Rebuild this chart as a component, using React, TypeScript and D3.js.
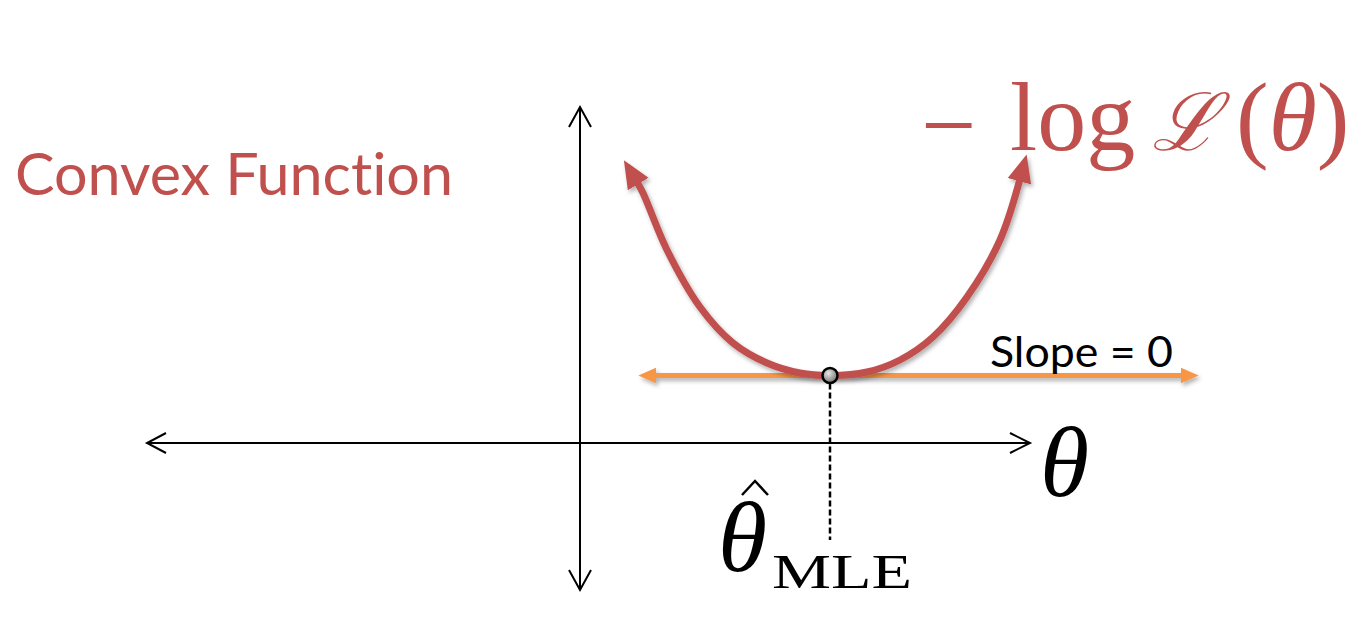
import React from "react";
import * as d3 from "d3";

// curve (theta, -log L)
const curveTheta = [1.14, 1.26, 1.74, 2.4, 3.06, 3.74, 4.4, 5.0, 5.74, 6.4, 7.06, 7.74, 8.4, 8.8];
const curveLoss = [5.22, 5.0, 3.86, 2.72, 2.0, 1.6, 1.4, 1.35, 1.42, 1.66, 2.12, 2.92, 4.06, 5.28];

const thetaHat = 5.0;
const minLoss = 1.35;
const slopeExtent = [1.5, 12.04];
const xAxisExtent = [-8.66, 9.0];
const yAxisExtent = [-2.94, 6.72];
const dashBottom = -1.94;

const RED = "#C0504D";
const ORANGE = "#F79646";

export default function App() {
  const width = 1352;
  const height = 620;

  const x = d3.scaleLinear().domain([-9, 9]).range([130, 1030]);
  const y = d3.scaleLinear().domain([-3, 7]).range([593, 93]);

  const pts: [number, number][] = curveTheta.map((t, i) => [t, curveLoss[i]]);
  const line = d3
    .line<[number, number]>()
    .x((d) => x(d[0]))
    .y((d) => y(d[1]))
    .curve(d3.curveCatmullRom.alpha(0.5));

  const x0 = x(0);
  const y0 = y(0);
  const chev = 11; // open arrow size on the axes

  const sans = "Lato, 'Open Sans', sans-serif";
  const serif = "'Liberation Serif', 'DejaVu Serif', serif";

  return (
    <svg
      width={width}
      height={height}
      style={{ position: "absolute", left: 0, top: 0, background: "#fff" }}
    >
      <defs>
        <filter id="shadow" filterUnits="userSpaceOnUse" x="0" y="0" width={width} height={height}>
          <feDropShadow dx="2" dy="3" stdDeviation="2" floodColor="#000" floodOpacity="0.3" />
        </filter>
        <marker
          id="redHead"
          markerUnits="userSpaceOnUse"
          markerWidth="30"
          markerHeight="30"
          viewBox="0 -12 26 24"
          refX="2"
          refY="0"
          orient="auto-start-reverse"
        >
          <path d="M0,-10.5L24,0L0,10.5Z" fill={RED} />
        </marker>
        <marker
          id="orangeHead"
          markerUnits="userSpaceOnUse"
          markerWidth="20"
          markerHeight="20"
          viewBox="0 -8 18 16"
          refX="1"
          refY="0"
          orient="auto-start-reverse"
        >
          <path d="M0,-7L16,0L0,7Z" fill={ORANGE} />
        </marker>
        <radialGradient id="dotFill" cx="40%" cy="35%" r="70%">
          <stop offset="0%" stopColor="#e6e6e6" />
          <stop offset="100%" stopColor="#6e6e6e" />
        </radialGradient>
      </defs>

      {/* axes */}
      <g stroke="#000" strokeWidth={2} fill="none">
        <line x1={x(xAxisExtent[0])} y1={y0} x2={x(xAxisExtent[1])} y2={y0} />
        <line x1={x0} y1={y(yAxisExtent[0])} x2={x0} y2={y(yAxisExtent[1])} />
        <path
          d={`M${x(xAxisExtent[0]) + chev + 8},${y0 - chev + 1}L${x(xAxisExtent[0])},${y0}L${x(xAxisExtent[0]) + chev + 8},${y0 + chev - 1}`}
        />
        <path
          d={`M${x(xAxisExtent[1]) - chev - 9},${y0 - chev + 1}L${x(xAxisExtent[1])},${y0}L${x(xAxisExtent[1]) - chev - 9},${y0 + chev - 1}`}
        />
        <path
          d={`M${x0 - chev},${y(yAxisExtent[1]) + chev + 9}L${x0},${y(yAxisExtent[1])}L${x0 + chev},${y(yAxisExtent[1]) + chev + 9}`}
        />
        <path
          d={`M${x0 - chev},${y(yAxisExtent[0]) - chev - 9}L${x0},${y(yAxisExtent[0])}L${x0 + chev},${y(yAxisExtent[0]) - chev - 9}`}
        />
      </g>

      {/* tangent line, slope = 0 */}
      <path
        d={`M${x(slopeExtent[0])},${y(minLoss)}H${x(slopeExtent[1])}`}
        stroke={ORANGE}
        strokeWidth={5}
        fill="none"
        markerStart="url(#orangeHead)"
        markerEnd="url(#orangeHead)"
        filter="url(#shadow)"
      />

      {/* convex curve */}
      <path
        d={line(pts) || ""}
        fill="none"
        stroke={RED}
        strokeWidth={7}
        strokeLinecap="butt"
        markerStart="url(#redHead)"
        markerEnd="url(#redHead)"
        filter="url(#shadow)"
      />

      {/* dashed drop to theta hat */}
      <line
        x1={x(thetaHat)}
        y1={y(minLoss) + 8}
        x2={x(thetaHat)}
        y2={y(dashBottom)}
        stroke="#000"
        strokeWidth={2.5}
        strokeDasharray="6,3"
      />
      <circle
        cx={x(thetaHat)}
        cy={y(minLoss)}
        r={7.5}
        fill="url(#dotFill)"
        stroke="#000"
        strokeWidth={2.5}
      />

      {/* labels */}
      <text
        x={15}
        y={195}
        fill={RED}
        fontFamily={sans}
        fontSize={58}
        textLength={438}
        lengthAdjust="spacingAndGlyphs"
        style={{ fontVariantLigatures: "none" }}
      >
        Convex Function
      </text>
      <text
        x={990}
        y={367}
        fill="#000"
        fontFamily={sans}
        fontSize={42}
        textLength={183}
        lengthAdjust="spacingAndGlyphs"
      >
        Slope = 0
      </text>

      <g fill={RED} fontFamily={serif} fontSize={98}>
        <text x={921} y={158}>−</text>
        <text x={1010} y={150}>log</text>
        <text x={1152} y={150} fontStyle="italic" fontFamily="'DejaVu Serif', serif" fontSize={80}>
          ℒ
        </text>
        <text x={1236} y={150}>
          (<tspan fontStyle="italic">θ</tspan>)
        </text>
      </g>

      <text x={1040} y={496} fontFamily={serif} fontStyle="italic" fontSize={100} fill="#000">
        θ
      </text>

      <text x={718} y={571} fontFamily={serif} fontStyle="italic" fontSize={100} fill="#000">
        θ
      </text>
      <path d="M742,495L755,481L768,495" fill="none" stroke="#000" strokeWidth={2.5} />
      <text
        x={772}
        y={588}
        fontFamily={serif}
        fontSize={48}
        fill="#000"
        textLength={140}
        lengthAdjust="spacingAndGlyphs"
      >
        MLE
      </text>
    </svg>
  );
}
